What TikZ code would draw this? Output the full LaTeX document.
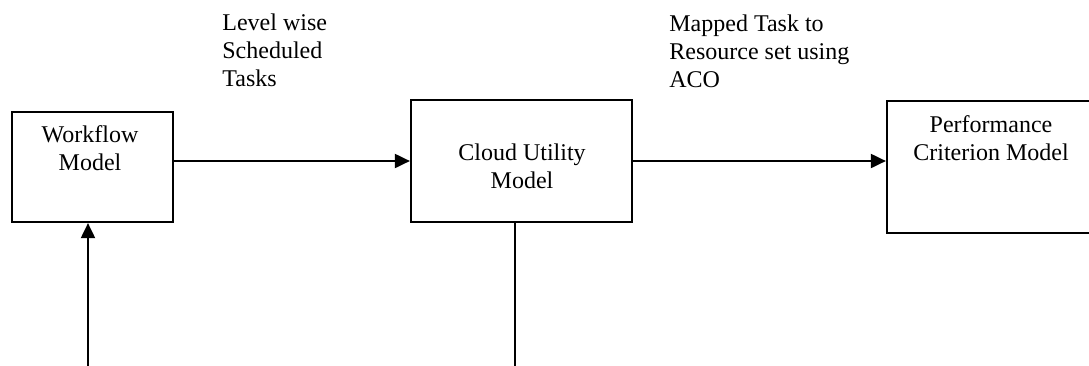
\documentclass[tikz,border=0pt]{standalone}
\usepackage{fontspec}
\setmainfont{Liberation Serif}
\usetikzlibrary{arrows.meta}
\tikzset{
  box/.style={draw=black, line width=1.1pt, fill=white, inner sep=0pt},
  txt/.style={inner sep=0pt, font=\fontsize{12}{14}\selectfont, text=black},
  conn/.style={draw=black, line width=1pt},
  arr/.style={conn, -{Triangle[length=7.5pt,width=7pt]}}
}
\begin{document}
\begin{tikzpicture}[x=0.5pt,y=-0.5pt]
\clip (0,0) rectangle (1089,365);
\fill[white] (0,0) rectangle (1089,365);
% boxes
\node[box, minimum width=80.5pt, minimum height=55pt] (wf) at (92.5,167) {};
\node[box, minimum width=110.5pt, minimum height=61pt] (cu) at (521.5,161) {};
\node[box, minimum width=104pt, minimum height=66pt] (pc) at (991,167) {};
% box texts
\node[txt, anchor=north, align=center] (wft) at (90,125) {Workflow\\Model};
\node[txt, anchor=north, align=center] (cut) at (522,143) {Cloud Utility\\Model};
\node[txt, anchor=north, align=center] (pct) at (991,115) {Performance\\Criterion Model};
% edge labels
\node[txt, anchor=north west, align=left] (l1) at (222,13) {Level wise\\Scheduled\\Tasks};
\node[txt, anchor=north west, align=left] (l2) at (669,14) {Mapped Task to\\Resource set using\\ACO};
% free ends
\coordinate (c1) at (515,370);
\coordinate (c2) at (88,370);
% connectors
\draw[arr] (wf.east |- cu.west) -- (cu.west);
\draw[arr] (cu.east) -- (cu.east -| pc.west);
\draw[conn] (c1 |- cu.south) -- (c1);
\draw[arr] (c2) -- (c2 |- wf.south);
\end{tikzpicture}
\end{document}
